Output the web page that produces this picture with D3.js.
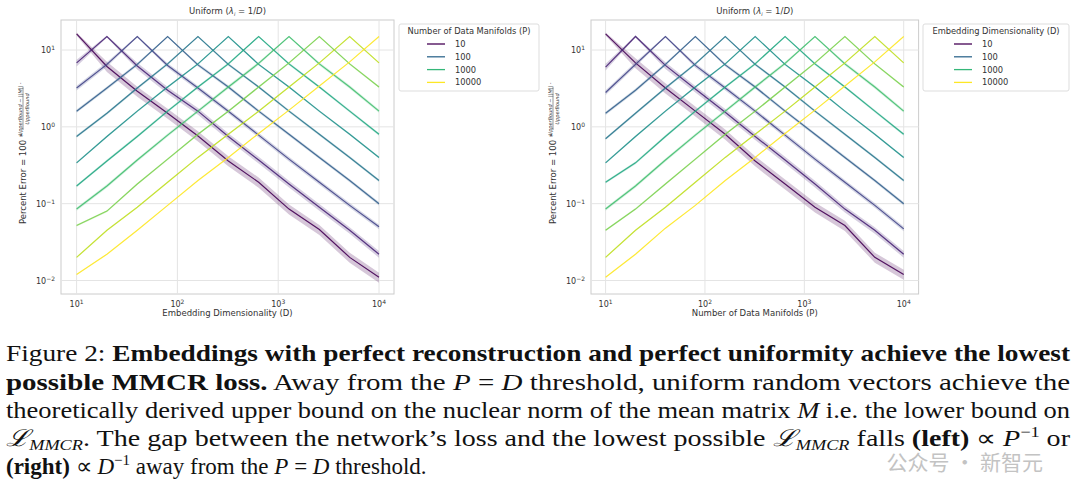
<!DOCTYPE html>
<html><head><meta charset="utf-8">
<script src="https://cdn.jsdelivr.net/npm/d3@7"></script>
<style>body{margin:0;background:#fff}svg{display:block}</style>
</head><body>
<svg id="c" width="1080" height="499"></svg>
<script>
const xPoints = [10,20,40,80,160,320,640,1280,2560,5120,10000];
const seriesKeys = [10,20,40,80,160,320,640,1280,2560,5120,10000];
const xTicks = [10,100,1000,10000];
const yTicks = [0.01,0.1,1,10];
const legendKeys = [10,100,1000,10000];
// left panel: series = P, x = D
const leftValues = [
 [16.2,6.1,2.9,1.5,0.76,0.36,0.19,0.085,0.046,0.02,0.011],
 [6.8,15,6.2,3.0,1.6,0.75,0.37,0.18,0.09,0.045,0.022],
 [3.2,6.5,15,6.3,3.2,1.6,0.78,0.38,0.19,0.095,0.05],
 [1.6,3.2,6.5,15,6.4,3.3,1.6,0.8,0.4,0.2,0.1],
 [0.75,1.5,3.2,6.6,15,6.5,3.3,1.6,0.8,0.4,0.2],
 [0.34,0.75,1.6,3.3,6.6,15,6.5,3.3,1.6,0.8,0.4],
 [0.17,0.36,0.75,1.6,3.3,6.6,15,6.6,3.3,1.6,0.8],
 [0.085,0.17,0.37,0.78,1.6,3.3,6.7,15,6.6,3.3,1.6],
 [0.052,0.08,0.18,0.38,0.8,1.6,3.3,6.8,15,6.6,3.3],
 [0.02,0.045,0.09,0.19,0.4,0.8,1.6,3.3,6.8,15,6.8],
 [0.012,0.022,0.045,0.095,0.2,0.4,0.82,1.65,3.4,7,15]
];
// right panel: series = D, x = P
const rightValues = [
 [16.2,6.8,3.2,1.6,0.8,0.36,0.18,0.09,0.052,0.02,0.012],
 [6.0,15,6.3,3.1,1.55,0.75,0.37,0.18,0.085,0.045,0.022],
 [2.8,6.5,15,6.3,3.2,1.6,0.78,0.38,0.19,0.095,0.047],
 [1.5,3.0,6.5,15,6.4,3.3,1.6,0.8,0.4,0.2,0.1],
 [0.7,1.5,3.2,6.6,15,6.5,3.3,1.6,0.8,0.4,0.2],
 [0.34,0.75,1.6,3.3,6.6,15,6.5,3.3,1.6,0.8,0.4],
 [0.19,0.34,0.75,1.6,3.3,6.6,15,6.6,3.3,1.6,0.8],
 [0.085,0.17,0.37,0.78,1.6,3.3,6.7,15,6.6,3.3,1.6],
 [0.045,0.085,0.18,0.38,0.8,1.6,3.3,6.8,15,6.6,3.3],
 [0.02,0.045,0.09,0.19,0.4,0.8,1.6,3.3,6.8,15,6.8],
 [0.011,0.022,0.048,0.095,0.2,0.4,0.82,1.65,3.4,7,15]
];
// relative half-width of confidence band per series
const bandWidth = [0.15,0.1,0.07,0.05,0.04,0.03,0.04,0.05,0.03,0.02,0.01];

const svg = d3.select("#c");
const color = v => d3.interpolateViridis(Math.log10(v/10)/3);
const F = "DejaVu Sans, sans-serif";

function panel(o){
  const g = svg.append("g");
  const x = d3.scaleLog().domain([10,10000]).range([o.x10,o.x1e4]);
  const y = d3.scaleLog().domain([0.01,10]).range([280.5,50]);
  g.append("rect").attr("x",o.l).attr("y",20).attr("width",o.r-o.l).attr("height",274)
    .attr("fill","#fff").attr("stroke","#ccc").attr("stroke-width",1);
  xTicks.forEach(t=>g.append("line").attr("x1",x(t)).attr("x2",x(t)).attr("y1",20).attr("y2",294).attr("stroke","#e4e4e4"));
  yTicks.forEach(t=>g.append("line").attr("y1",y(t)).attr("y2",y(t)).attr("x1",o.l).attr("x2",o.r).attr("stroke","#e4e4e4"));
  const exps={10:"1",100:"2",1000:"3",10000:"4"};
  xTicks.forEach(t=>{const tx=g.append("text").attr("x",x(t)).attr("y",307).attr("text-anchor","middle").attr("font-family",F).attr("font-size",8).attr("fill","#333");
    tx.append("tspan").text("10");tx.append("tspan").attr("dy",-3).attr("font-size",6).text(exps[t]);});
  const yexp={0.01:"−2",0.1:"−1",1:"0",10:"1"};
  yTicks.forEach(t=>{const tx=g.append("text").attr("x",o.l-6).attr("y",y(t)+3).attr("text-anchor","end").attr("font-family",F).attr("font-size",8).attr("fill","#333");
    tx.append("tspan").text("10");tx.append("tspan").attr("dy",-3).attr("font-size",6).text(yexp[t]);});
  g.append("text").attr("x",(o.l+o.r)/2).attr("y",316).attr("text-anchor","middle").attr("font-family",F).attr("font-size",8.5).attr("fill","#333").text(o.xlabel);
  const tt=g.append("text").attr("x",(o.l+o.r)/2).attr("y",14).attr("text-anchor","middle").attr("font-family",F).attr("font-size",8.5).attr("fill","#333");
  tt.append("tspan").text("Uniform (");tt.append("tspan").attr("font-style","italic").text("λ");
  tt.append("tspan").attr("font-size",5).attr("dy",2).attr("font-style","italic").text("i");
  tt.append("tspan").attr("dy",-2).text(" = 1/");tt.append("tspan").attr("font-style","italic").text("D");tt.append("tspan").text(")");
  // y label
  const yl=g.append("g").attr("transform",`translate(${o.l-38},157) rotate(-90)`);
  yl.append("text").attr("x",24).attr("y",3).attr("text-anchor","end").attr("font-family",F).attr("font-size",8.5).attr("fill","#333").text("Percent Error = 100 *");
  yl.append("text").attr("x",48).attr("y",-1.5).attr("text-anchor","middle").attr("font-family",F).attr("font-size",5).attr("font-style","italic").attr("fill","#333").text("UpperBound − ||M|| -");
  yl.append("line").attr("x1",27).attr("x2",70).attr("y1",0).attr("y2",0).attr("stroke","#333").attr("stroke-width",0.5);
  yl.append("text").attr("x",48).attr("y",5.5).attr("text-anchor","middle").attr("font-family",F).attr("font-size",5).attr("font-style","italic").attr("fill","#333").text("UpperBound");
  // data
  const area=d3.area().x((d,i)=>x(xPoints[i])).y0((d)=>y(d.lo)).y1(d=>y(d.hi));
  const line=d3.line().x((d,i)=>x(xPoints[i])).y(d=>y(d));
  o.values.forEach((vals,si)=>{
    const c=color(seriesKeys[si]);
    const bw=bandWidth[si];
    const band=vals.map((v,i)=>{const w=(i===si)?bw*0.3:bw;return {lo:v*(1-w),hi:v*(1+w)};});
    g.append("path").attr("d",area(band)).attr("fill",c).attr("opacity",0.22);
    g.append("path").attr("d",line(vals)).attr("fill","none").attr("stroke",c).attr("stroke-width",1.2).attr("opacity",0.9);
  });
  // legend
  const lg=g.append("g");
  lg.append("rect").attr("x",o.lx).attr("y",24).attr("width",o.lw).attr("height",67).attr("fill","#fff").attr("stroke","#ddd").attr("rx",2);
  lg.append("text").attr("x",o.lx+o.lw/2).attr("y",34).attr("text-anchor","middle").attr("font-family",F).attr("font-size",8.3).attr("fill","#333").text(o.ltitle);
  legendKeys.forEach((k,i)=>{const yy=44+i*12.8;
    lg.append("line").attr("x1",o.lx+o.lw/2-42).attr("x2",o.lx+o.lw/2-24).attr("y1",yy).attr("y2",yy).attr("stroke",color(k)).attr("stroke-width",1.3);
    lg.append("text").attr("x",o.lx+o.lw/2-14).attr("y",yy+3).attr("font-family",F).attr("font-size",8.3).attr("fill","#333").text(k);});
}
panel({l:61,r:394,x10:76.6,x1e4:379,values:leftValues,xlabel:"Embedding Dimensionality (D)",ltitle:"Number of Data Manifolds (P)",lx:399,lw:140});
panel({l:591,r:918.6,x10:605.6,x1e4:903.7,values:rightValues,xlabel:"Number of Data Manifolds (P)",ltitle:"Embedding Dimensionality (D)",lx:923,lw:146});

// watermark (behind caption)
svg.append("text").attr("x",1043).attr("y",470).attr("text-anchor","end").attr("font-family","Noto Sans CJK SC").attr("font-size",21).attr("fill","#aaa").attr("opacity",0.7).text("公众号 · 新智元");

// caption
const S="Liberation Serif";
const cap=svg.append("g").attr("font-family",S).attr("font-size",23).attr("fill","#111");
function ln(y,parts,just){const t=cap.append("text").attr("x",6).attr("y",y);
  if(just){t.attr("textLength",1064).attr("lengthAdjust","spacingAndGlyphs");}
  parts.forEach(p=>{const s=t.append("tspan").text(p[0]);if(p[1]==="b")s.attr("font-weight","bold");if(p[1]==="i")s.attr("font-style","italic");if(p[1]==="sub")s.attr("font-style","italic").attr("font-size",15).attr("dy",4);if(p[1]==="up")s.attr("dy",-4);if(p[1]==="sup")s.attr("font-size",15).attr("dy",-9);if(p[1]==="down")s.attr("dy",9);});}
ln(361,[["Figure 2: "],["Embeddings with perfect reconstruction and perfect uniformity achieve the lowest","b"]],true);
ln(390,[["possible MMCR loss.","b"],["  Away from the "],["P","i"],[" = "],["D","i"],[" threshold, uniform random vectors achieve the"]],true);
ln(418,[["theoretically derived upper bound on the nuclear norm of the mean matrix "],["M","i"],[" i.e. the lower bound on"]],true);
ln(446,[["ℒ","i"],["MMCR","sub"],[". The gap between the network’s loss and the lowest possible ","up"],["ℒ","i"],["MMCR","sub"],[" falls ","up"],["(left)","b"],[" ∝ "],["P","i"],["−1","sup"],[" or","down"]],true);
ln(474,[["(right)","b"],[" ∝ "],["D","i"],["−1","sup"],[" away from the ","down"],["P","i"],[" = "],["D","i"],[" threshold."]],false);
</script>
</body></html>
